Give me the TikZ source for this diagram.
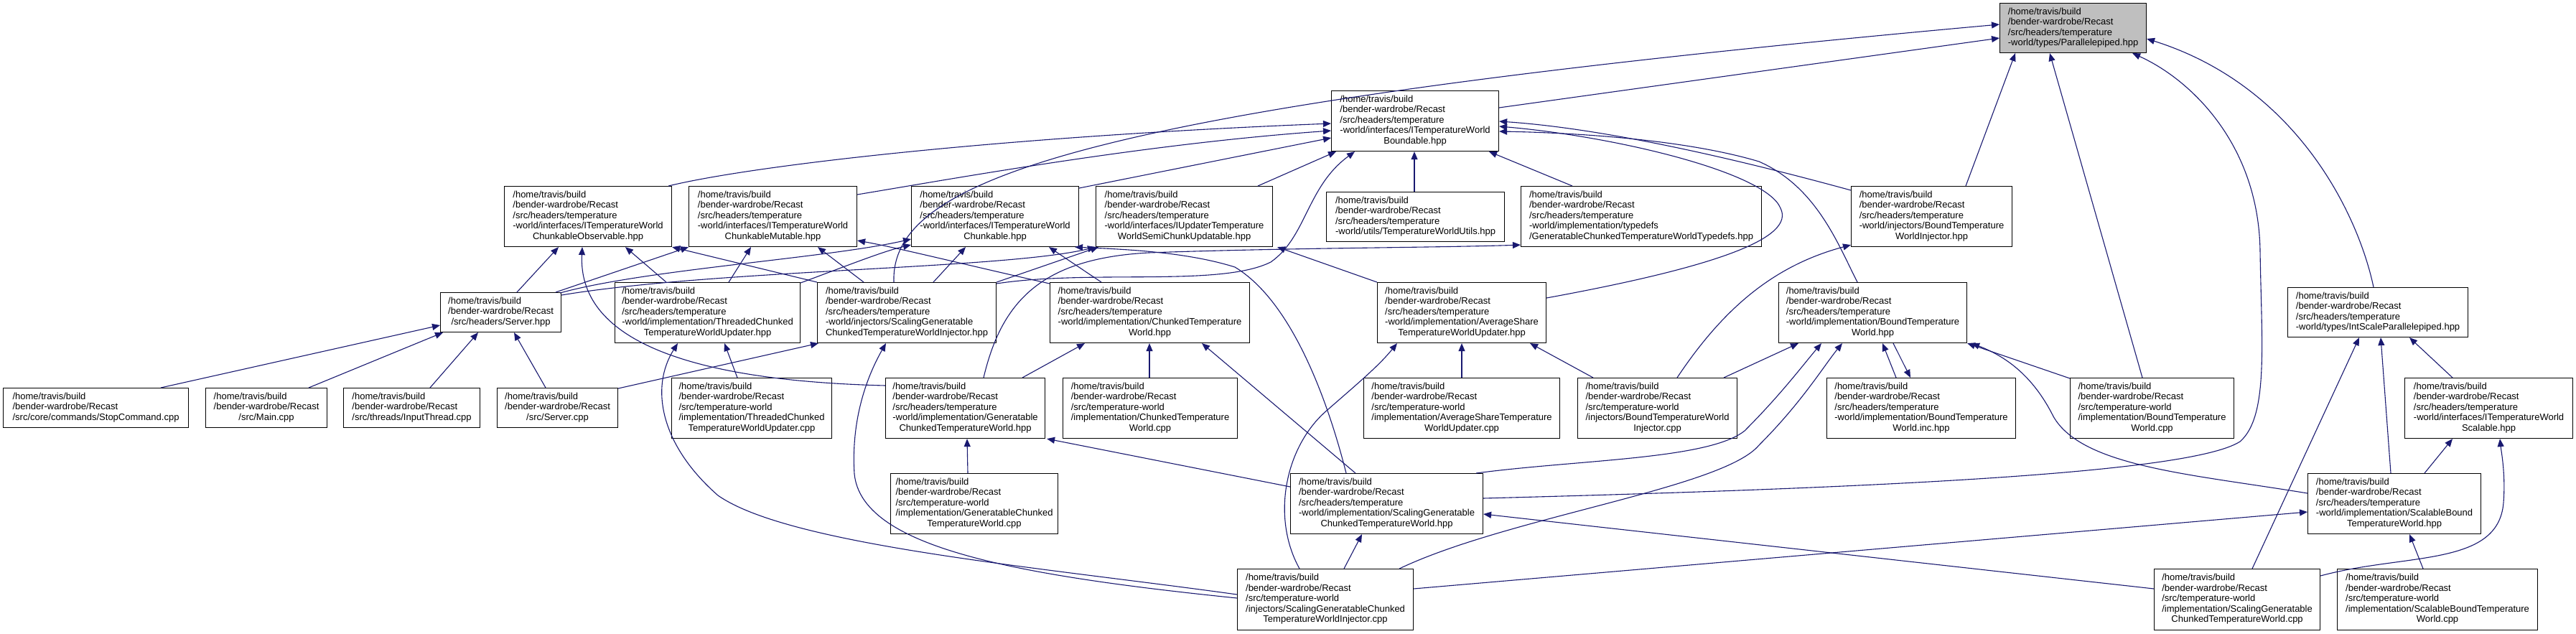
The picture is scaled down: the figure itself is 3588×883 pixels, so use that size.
\documentclass[tikz,border=0pt]{standalone}
\usepackage{fontspec}
\setmainfont{Liberation Sans}
\usetikzlibrary{arrows.meta,calc}
\definecolor{edgec}{HTML}{191970}
\definecolor{rootfill}{HTML}{BFBFBF}
\newcommand{\HR}{/home/travis/build\\/bender-wardrobe/Recast}
\newcommand{\lbl}[2]{\begin{tabular}{@{}l@{}}#1\\\multicolumn{1}{@{}c@{}}{#2}\end{tabular}}
\tikzset{
 filebox/.style={draw=black, line width=1.1pt, fill=white, inner sep=0pt, anchor=north west, font=\fontsize{13}{14.5}\selectfont},
 dep/.style={draw=edgec, line width=1.1pt, -{Triangle[length=11pt,width=9pt]}},
}
\newcommand{\fnode}[6]{\node[filebox, minimum width=#4pt, minimum height=#5pt] (#1) at (#2,#3) {#6};}
\begin{document}
\begin{tikzpicture}[x=1pt,y=-1pt]
\useasboundingbox (0,0) rectangle (3588,883);
% row 0
\node[filebox, fill=rootfill, minimum width=204pt, minimum height=69pt] (root) at (2785,4) {\lbl{\HR\\/src/headers/temperature}{-world/types/Parallelepiped.hpp}};
% row 1
\fnode{bnd}{1854}{126}{233}{84}{\lbl{\HR\\/src/headers/temperature\\-world/interfaces/ITemperatureWorld}{Boundable.hpp}}
% row 2
\fnode{cobs}{702}{259}{233}{84}{\lbl{\HR\\/src/headers/temperature\\-world/interfaces/ITemperatureWorld}{ChunkableObservable.hpp}}
\fnode{cmut}{959}{259}{234}{84}{\lbl{\HR\\/src/headers/temperature\\-world/interfaces/ITemperatureWorld}{ChunkableMutable.hpp}}
\fnode{chk}{1269}{259}{233}{84}{\lbl{\HR\\/src/headers/temperature\\-world/interfaces/ITemperatureWorld}{Chunkable.hpp}}
\fnode{iupd}{1526}{259}{246}{84}{\lbl{\HR\\/src/headers/temperature\\-world/interfaces/IUpdaterTemperature}{WorldSemiChunkUpdatable.hpp}}
\fnode{utl}{1847}{267}{248}{69}{\lbl{\HR\\/src/headers/temperature}{-world/utils/TemperatureWorldUtils.hpp}}
\fnode{tdf}{2118}{259}{335}{84}{\lbl{\HR\\/src/headers/temperature\\-world/implementation/typedefs}{/GeneratableChunkedTemperatureWorldTypedefs.hpp}}
\fnode{bih}{2578}{259}{224}{84}{\lbl{\HR\\/src/headers/temperature\\-world/injectors/BoundTemperature}{WorldInjector.hpp}}
% row 3
\fnode{srvh}{613}{407}{168}{55}{\lbl{\HR}{/src/headers/Server.hpp}}
\fnode{tch}{856}{393}{258}{84}{\lbl{\HR\\/src/headers/temperature\\-world/implementation/ThreadedChunked}{TemperatureWorldUpdater.hpp}}
\fnode{sgih}{1138}{393}{249}{84}{\lbl{\HR\\/src/headers/temperature\\-world/injectors/ScalingGeneratable}{ChunkedTemperatureWorldInjector.hpp}}
\fnode{ctwh}{1462}{393}{278}{84}{\lbl{\HR\\/src/headers/temperature\\-world/implementation/ChunkedTemperature}{World.hpp}}
\fnode{ash}{1918}{393}{235}{84}{\lbl{\HR\\/src/headers/temperature\\-world/implementation/AverageShare}{TemperatureWorldUpdater.hpp}}
\fnode{btwh}{2477}{393}{262}{84}{\lbl{\HR\\/src/headers/temperature\\-world/implementation/BoundTemperature}{World.hpp}}
\fnode{isp}{3186}{400}{251}{69}{\lbl{\HR\\/src/headers/temperature}{-world/types/IntScaleParallelepiped.hpp}}
% row 4
\fnode{stop}{4}{540}{258}{55}{\lbl{\HR}{/src/core/commands/StopCommand.cpp}}
\fnode{main}{286}{540}{169}{55}{\lbl{\HR}{/src/Main.cpp}}
\fnode{inp}{478}{540}{190}{55}{\lbl{\HR}{/src/threads/InputThread.cpp}}
\fnode{srvc}{692}{540}{168}{55}{\lbl{\HR}{/src/Server.cpp}}
\fnode{tcc}{935}{526}{223}{84}{\lbl{\HR\\/src/temperature-world\\/implementation/ThreadedChunked}{TemperatureWorldUpdater.cpp}}
\fnode{gch}{1233}{526}{222}{84}{\lbl{\HR\\/src/headers/temperature\\-world/implementation/Generatable}{ChunkedTemperatureWorld.hpp}}
\fnode{ctwc}{1480}{526}{243}{84}{\lbl{\HR\\/src/temperature-world\\/implementation/ChunkedTemperature}{World.cpp}}
\fnode{asc}{1899}{526}{273}{84}{\lbl{\HR\\/src/temperature-world\\/implementation/AverageShareTemperature}{WorldUpdater.cpp}}
\fnode{bic}{2197}{526}{222}{84}{\lbl{\HR\\/src/temperature-world\\/injectors/BoundTemperatureWorld}{Injector.cpp}}
\fnode{binc}{2544}{526}{263}{84}{\lbl{\HR\\/src/headers/temperature\\-world/implementation/BoundTemperature}{World.inc.hpp}}
\fnode{btwc}{2883}{526}{228}{84}{\lbl{\HR\\/src/temperature-world\\/implementation/BoundTemperature}{World.cpp}}
\fnode{itws}{3349}{526}{234}{84}{\lbl{\HR\\/src/headers/temperature\\-world/interfaces/ITemperatureWorld}{Scalable.hpp}}
% row 5
\fnode{gcc}{1240}{659}{233}{84}{\lbl{\HR\\/src/temperature-world\\/implementation/GeneratableChunked}{TemperatureWorld.cpp}}
\fnode{sgh}{1797}{659}{268}{84}{\lbl{\HR\\/src/headers/temperature\\-world/implementation/ScalingGeneratable}{ChunkedTemperatureWorld.hpp}}
\fnode{sbh}{3214}{659}{241}{84}{\lbl{\HR\\/src/headers/temperature\\-world/implementation/ScalableBound}{TemperatureWorld.hpp}}
% row 6
\fnode{sgic}{1723}{792}{245}{85}{\lbl{\HR\\/src/temperature-world\\/injectors/ScalingGeneratableChunked}{TemperatureWorldInjector.cpp}}
\fnode{sgc}{3000}{792}{231}{85}{\lbl{\HR\\/src/temperature-world\\/implementation/ScalingGeneratable}{ChunkedTemperatureWorld.cpp}}
\fnode{sbc}{3255}{792}{279}{85}{\lbl{\HR\\/src/temperature-world\\/implementation/ScalableBoundTemperature}{World.cpp}}

% ---- edges into root
\draw[dep] ($(bnd.north east)+(0,24)$) -- ($(root.north west)+(0,49)$);
\draw[dep] ($(sgih.north west)+(107,0)$) .. controls (1240,250) and (1500,150) .. ($(root.north west)+(0,30)$);
\draw[dep] ($(bih.north west)+(160,0)$) -- ($(root.south west)+(22,0)$);
\draw[dep] ($(btwc.north west)+(101,0)$) -- ($(root.south west)+(70,0)$);
\draw[dep] ($(isp.north west)+(120,0)$) .. controls (3285,300) and (3200,120) .. ($(root.north east)+(0,50)$);
\draw[dep] ($(sgh.north east)+(0,35)$) .. controls (2600,680) and (3050,660) .. (3120,615) .. controls (3160,580) and (3150,480) .. (3148,350) .. controls (3146,200) and (3050,110) .. ($(root.south east)+(-20,0)$);
% ---- edges into Boundable
\draw[dep] ($(cobs.north east)+(-5,0)$) .. controls (1050,230) and (1400,190) .. ($(bnd.north west)+(0,46)$);
\draw[dep] ($(cmut.north east)+(0,12)$) .. controls (1350,245) and (1600,200) .. ($(bnd.north west)+(0,56)$);
\draw[dep] ($(chk.north east)+(0,3)$) -- ($(bnd.north west)+(0,66)$);
\draw[dep] ($(iupd.north west)+(226,0)$) -- ($(bnd.south west)+(7,0)$);
\draw[dep] ($(sgih.north east)+(0,2)$) .. controls (1520,375) and (1700,400) .. (1770,365) .. controls (1820,330) and (1820,260) .. ($(bnd.south west)+(33,0)$);
\draw[dep] ($(utl.north west)+(123,0)$) -- ($(bnd.south west)+(116,0)$);
\draw[dep] ($(tdf.north west)+(72,0)$) -- ($(bnd.south west)+(220,0)$);
\draw[dep] ($(ash.north east)+(0,22)$) .. controls (2400,370) and (2500,330) .. (2480,290) .. controls (2460,240) and (2250,190) .. ($(bnd.north east)+(0,50)$);
\draw[dep] ($(btwh.north west)+(110,0)$) .. controls (2560,340) and (2530,260) .. (2450,225) .. controls (2350,195) and (2200,185) .. ($(bnd.north east)+(0,57)$);
\draw[dep] ($(bih.north west)+(0,6)$) .. controls (2450,230) and (2250,180) .. ($(bnd.north east)+(0,43)$);
% ---- row 2 interfaces
\draw[dep] ($(srvh.north west)+(107,0)$) -- ($(cobs.south west)+(76,0)$);
\draw[dep] ($(srvh.north west)+(161,0)$) -- ($(cmut.south west)+(0,0)$);
\draw[dep] ($(srvh.north east)+(-2,1)$) .. controls (900,375) and (1150,360) .. ($(chk.north west)+(0,74)$);
\draw[dep] ($(srvh.north east)+(0,4)$) .. controls (1000,375) and (1400,375) .. ($(iupd.south west)+(0,0)$);
\draw[dep] ($(tch.north west)+(72,0)$) -- ($(cobs.south west)+(169,0)$);
\draw[dep] ($(tch.north west)+(159,0)$) -- ($(cmut.south west)+(87,0)$);
\draw[dep] ($(tch.north east)+(0,1)$) .. controls (1180,370) and (1230,350) .. ($(chk.north west)+(0,82)$);
\draw[dep] ($(sgih.north west)+(0,0)$) -- ($(cobs.south east)+(0,0)$);
\draw[dep] ($(sgih.north west)+(65,0)$) -- ($(cmut.south west)+(180,0)$);
\draw[dep] ($(sgih.north west)+(162,0)$) -- ($(chk.south west)+(76,0)$);
\draw[dep] ($(sgih.north east)+(0,0)$) -- ($(iupd.south west)+(4,0)$);
\draw[dep] ($(ctwh.north west)+(0,2)$) .. controls (1350,370) and (1250,345) .. ($(cmut.north east)+(0,76)$);
\draw[dep] ($(ctwh.north west)+(72,0)$) -- ($(chk.south west)+(192,0)$);
\draw[dep] ($(gch.north west)+(0,11)$) .. controls (950,530) and (805,470) .. ($(cobs.south west)+(109,0)$);
\draw[dep] ($(gch.north west)+(137,0)$) .. controls (1395,420) and (1450,360) .. (1600,352) .. controls (1800,345) and (2000,345) .. ($(tdf.south west)+(0,-3)$);
\draw[dep] ($(ash.north west)+(0,0)$) -- ($(iupd.south east)+(6,0)$);
\draw[dep] ($(sgh.north west)+(78,0)$) .. controls (1850,560) and (1800,420) .. (1720,372) .. controls (1650,350) and (1560,347) .. ($(chk.south east)+(-6,0)$);
% ---- Server.hpp
\draw[dep] ($(stop.north west)+(220,0)$) -- ($(srvh.north west)+(0,46)$);
\draw[dep] ($(main.north west)+(144,0)$) -- ($(srvh.south west)+(4,0)$);
\draw[dep] ($(inp.north west)+(121,0)$) -- ($(srvh.south west)+(53,0)$);
\draw[dep] ($(srvc.north west)+(68,0)$) -- ($(srvh.south west)+(103,0)$);
% ---- row 3 / 4
\draw[dep] ($(tcc.north west)+(92,0)$) -- ($(tch.south west)+(153,0)$);
\draw[dep] ($(sgic.north west)+(0,36)$) .. controls (1450,790) and (1100,760) .. (1000,690) .. controls (920,620) and (905,540) .. ($(tch.south west)+(88,0)$);
\draw[dep] ($(sgic.north west)+(0,41)$) .. controls (1400,800) and (1200,760) .. (1190,660) .. controls (1185,580) and (1210,520) .. ($(sgih.south west)+(96,0)$);
\draw[dep] ($(srvc.north east)+(0,1)$) -- ($(sgih.south west)+(2,0)$);
\draw[dep] ($(ctwc.north west)+(121,0)$) -- ($(ctwh.south west)+(139,0)$);
\draw[dep] ($(gch.north west)+(191,0)$) -- ($(ctwh.south west)+(49,0)$);
\draw[dep] ($(sgh.north west)+(91,0)$) -- ($(ctwh.south east)+(-67,0)$);
\draw[dep] ($(gcc.north west)+(108,0)$) -- ($(gch.south west)+(114,0)$);
\draw[dep] ($(sgh.north west)+(0,19)$) -- ($(gch.south east)+(2,0)$);
\draw[dep] ($(sgic.north west)+(149,0)$) -- ($(sgh.south west)+(100,0)$);
\draw[dep] ($(sgic.north west)+(87,0)$) .. controls (1770,720) and (1790,620) .. (1850,570) .. controls (1890,535) and (1920,510) .. ($(ash.south west)+(28,0)$);
\draw[dep] ($(asc.north west)+(137,0)$) -- ($(ash.south west)+(118,0)$);
\draw[dep] ($(bic.north west)+(22,0)$) -- ($(ash.south east)+(-23,0)$);
\draw[dep] ($(bic.north west)+(139,0)$) .. controls (2400,430) and (2470,370) .. ($(bih.south west)+(0,-3)$);
\draw[dep] ($(bic.north west)+(204,0)$) -- ($(btwh.south west)+(28,0)$);
\draw[dep] ($(binc.north west)+(97,0)$) -- ($(btwh.south west)+(145,0)$);
\draw[dep] ($(btwh.south west)+(160,0)$) -- ($(binc.north west)+(117,0)$);
\draw[dep] ($(btwc.north west)+(0,1)$) -- ($(btwh.south east)+(0,0)$);
\draw[dep] ($(sbh.north west)+(0,28)$) .. controls (3050,660) and (2900,650) .. (2860,580) .. controls (2830,520) and (2790,495) .. ($(btwh.south east)+(6,0)$);
\draw[dep] ($(sgh.north east)+(-10,0)$) .. controls (2200,640) and (2380,640) .. (2430,600) .. controls (2480,550) and (2510,510) .. ($(btwh.south west)+(60,0)$);
\draw[dep] ($(sgic.north east)+(-20,0)$) .. controls (2100,720) and (2400,680) .. (2450,620) .. controls (2510,560) and (2540,510) .. ($(btwh.south west)+(89,0)$);
\draw[dep] ($(sgc.north west)+(0,28)$) -- ($(sgh.north east)+(0,57)$);
\draw[dep] ($(sgic.north east)+(0,28)$) -- ($(sbh.north west)+(0,54)$);
\draw[dep] ($(sgc.north west)+(137,0)$) -- ($(isp.south west)+(100,0)$);
\draw[dep] ($(sbh.north west)+(116,0)$) -- ($(isp.south west)+(130,0)$);
\draw[dep] ($(sbh.north west)+(163,0)$) -- ($(itws.south west)+(67,0)$);
\draw[dep] ($(itws.north west)+(67,0)$) -- ($(isp.south west)+(170,0)$);
\draw[dep] ($(sbc.north west)+(120,0)$) -- ($(sbh.south west)+(142,0)$);
\draw[dep] ($(sgc.north east)+(0,10)$) .. controls (3350,770) and (3480,790) .. (3487,700) .. controls (3490,660) and (3484,630) .. ($(itws.south west)+(133,0)$);
\end{tikzpicture}
\end{document}
